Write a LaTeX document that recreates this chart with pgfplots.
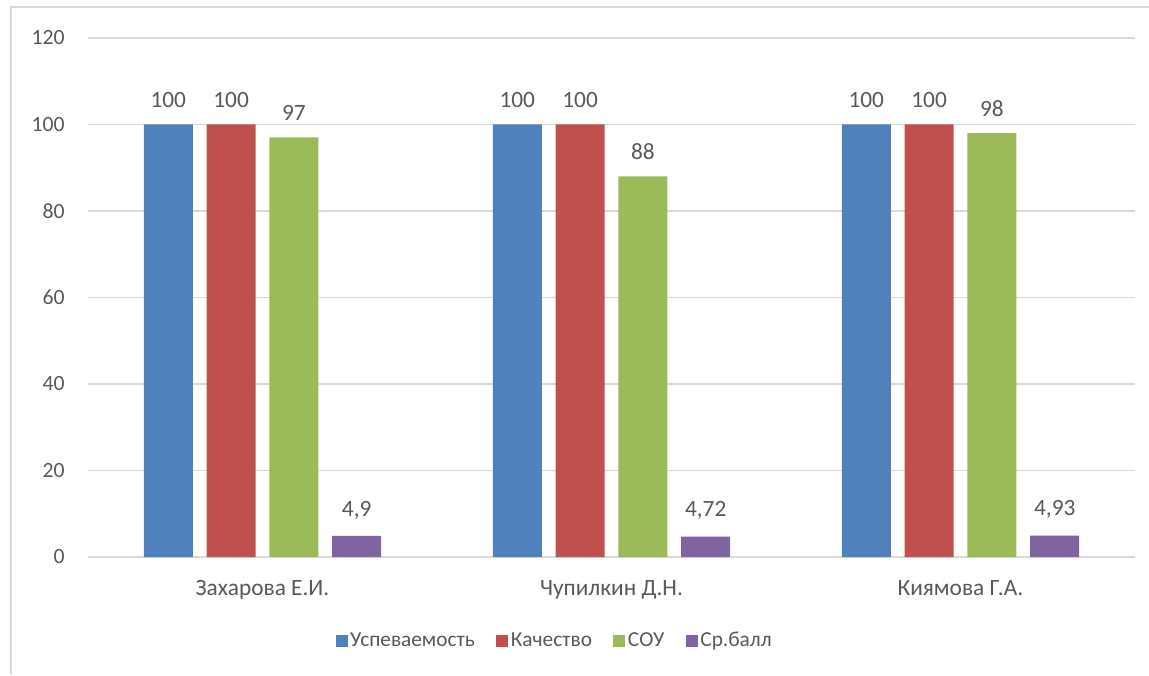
\documentclass[border=0pt]{standalone}
\usepackage{pgfplots}
\pgfplotsset{compat=1.18}
\usepackage{fontspec}
\setmainfont{Carlito}
\definecolor{cblue}{HTML}{4F81BD}
\definecolor{cred}{HTML}{C0504D}
\definecolor{cgreen}{HTML}{9BBB59}
\definecolor{cpurple}{HTML}{8064A2}
\definecolor{txt}{HTML}{595959}
\definecolor{gridc}{HTML}{D9D9D9}
\begin{document}
\fontsize{16}{19}\selectfont
\begin{tikzpicture}
\useasboundingbox (0pt,0pt) rectangle (861.75pt,506.25pt);
\draw[gridc, line width=1pt] (8.25pt,0pt) -- (8.25pt,501pt) -- (861.75pt,501pt);
\begin{axis}[
  at={(66pt,88.5pt)}, anchor=south west,
  scale only axis, width=785.25pt, height=389.25pt,
  xmin=-0.5, xmax=2.5, ymin=0, ymax=120,
  ytick={0,20,...,120},
  xtick={0,1,2},
  xticklabels={Захарова Е.И., Чупилкин Д.Н., Киямова Г.А.},
  axis line style={draw=none},
  major tick length=0pt,
  ymajorgrids,
  grid style={gridc, line width=0.9pt},
  tick label style={text=txt},
  yticklabel style={xshift=-12pt, font=\fontsize{16.3}{19}\selectfont},
  xticklabel style={yshift=-12pt, font=\fontsize{17.5}{20}\selectfont},
  /pgf/number format/assume math mode=true,
  clip=false,
  mybar/.style={ybar, bar width=36.75pt, bar shift=0pt, draw=none, fill=#1,
    nodes near coords={\pgfmathprintnumber[use comma]{\pgfplotspointmeta}},
    every node near coord/.append style={text=txt, yshift=7pt, font=\fontsize{17.5}{20}\selectfont},
    legend image code/.code={\fill[#1] (0pt,-4.5pt) rectangle (9pt,4.5pt);}},
  legend style={at={(0.446,-0.162)}, anchor=center, draw=none, fill=none,
    legend columns=4, text=txt, font=\fontsize{16}{19}\selectfont,
    /tikz/every even column/.append style={column sep=14pt}},
]
\addplot[mybar=cblue] coordinates {(-0.27,100) (0.73,100) (1.73,100)};
\addplot[mybar=cred] coordinates {(-0.09,100) (0.91,100) (1.91,100)};
\addplot[mybar=cgreen] coordinates {(0.09,97) (1.09,88) (2.09,98)};
\addplot[mybar=cpurple] coordinates {(0.27,4.9) (1.27,4.72) (2.27,4.93)};
\legend{Успеваемость, Качество, СОУ, Ср.балл}
\end{axis}
\end{tikzpicture}
\end{document}
